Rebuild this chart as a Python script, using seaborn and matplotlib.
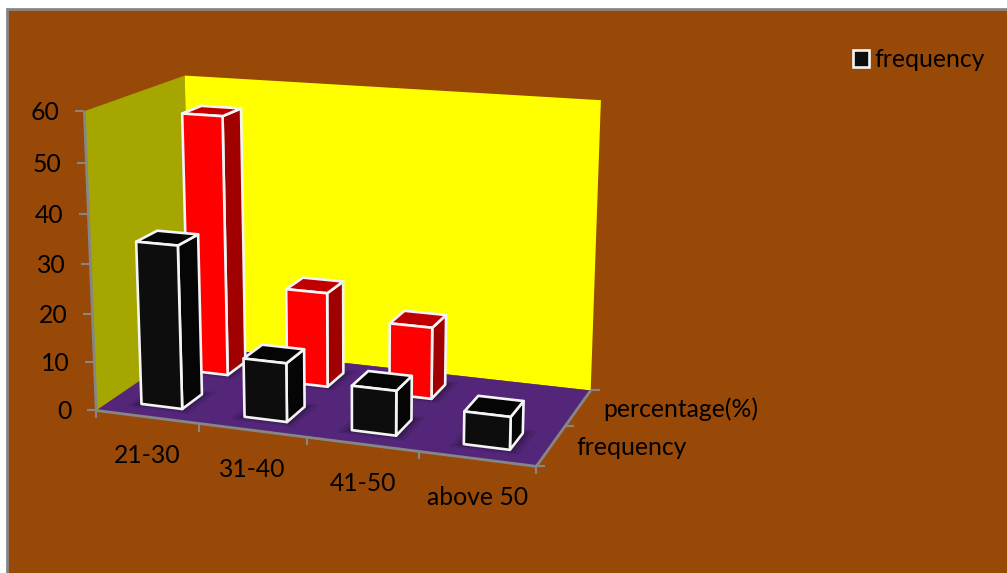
#!/usr/bin/env python3
import numpy as np
import matplotlib
matplotlib.use("Agg")
import matplotlib.pyplot as plt
import seaborn as sns
from matplotlib.patches import Polygon, Patch, Rectangle

# ===== DATA =====
AGE_GROUPS = ["21-30", "31-40", "41-50", "above 50"]
SERIES = ["frequency", "percentage(%)"]
FREQUENCY = [33.5, 12, 9, 6.5]
PERCENTAGE = [55, 20, 15, 0]
Z_TICKS = [0, 10, 20, 30, 40, 50, 60]

# ===== SETTINGS =====
BG = "#984807"
GREY = "#868686"
LEFT_WALL = "#A6A600"
BACK_WALL = "#FFFF00"
FLOOR = "#54267A"
# front, top, side colour of the bars in each series
BAR_COLORS = [("#0D0D0D", "#050505", "#050505"), ("#FF0000", "#C00000", "#A00000")]
BAR_WIDTH = 0.40
BAR_DEPTH = 0.42
FONT = 17.8

# camera: box corners (category, series, value) -> picture pixel
CAM_BOX = [(0, 0, 0), (4, 0, 0), (4, 2, 0), (0, 2, 0), (0, 0, 60), (0, 2, 60), (4, 2, 60)]
CAM_PX = [(95, 410), (537, 466), (590, 391), (192.7, 346), (85, 112), (184, 75), (601, 100)]


def fit_camera():
    rows, rhs = [], []
    for (x, y, z), (u, v) in zip(CAM_BOX, CAM_PX):
        rows.append([x, y, z, 1, 0, 0, 0, 0, -u * x, -u * y, -u * z])
        rows.append([0, 0, 0, 0, x, y, z, 1, -v * x, -v * y, -v * z])
        rhs += [u, v]
    sol = np.linalg.lstsq(np.array(rows, float), np.array(rhs, float), rcond=None)[0]
    return np.append(sol, 1).reshape(3, 4)


CAM = fit_camera()


def proj(x, y, z):
    p = CAM @ np.array([x, y, z, 1.0])
    return p[0] / p[2], p[1] / p[2]


def face(ax, pts, color, **kw):
    ax.add_patch(Polygon([proj(*p) for p in pts], closed=True, facecolor=color, **kw))


def draw_box(ax):
    face(ax, [(0, 0, 0), (0, 2, 0), (0, 2, 60), (0, 0, 60)], LEFT_WALL, edgecolor="none")
    face(ax, [(0, 2, 0), (4, 2, 0), (4, 2, 60), (0, 2, 60)], BACK_WALL, edgecolor="none")
    face(ax, [(0, 0, 0), (4, 0, 0), (4, 2, 0), (0, 2, 0)], FLOOR, edgecolor="none")


def axis_line(ax, a, b, lw=2):
    (x0, y0), (x1, y1) = a, b
    ax.plot([x0, x1], [y0, y1], color=GREY, lw=lw, solid_capstyle="butt")


def draw_axes(ax):
    # value axis
    axis_line(ax, proj(0, 0, 0), proj(0, 0, 60))
    for val in Z_TICKS:
        u, v = proj(0, 0, val)
        axis_line(ax, (u - 9, v), (u, v), lw=1.5)
        ax.text(u - 25, v + 1.5, str(val), ha="right", va="center", fontsize=FONT, color="black")
    # category axis
    axis_line(ax, proj(0, 0, 0), proj(4, 0, 0))
    for i in range(5):
        u, v = proj(i, 0, 0)
        axis_line(ax, (u, v), (u, v + 8), lw=1.5)
    for i, name in enumerate(AGE_GROUPS):
        u, v = proj(i + 0.5, 0, 0)
        ax.text(u, v + 39, name, ha="center", va="center", fontsize=FONT, color="black")
    # series axis
    axis_line(ax, proj(4, 0, 0), proj(4, 2, 0))
    for j in range(3):
        u, v = proj(4, j, 0)
        axis_line(ax, (u, v), (u + 9, v), lw=1.5)
    for j, name in enumerate(SERIES):
        u, v = proj(4, j + 0.5, 0)
        ax.text(u + 25, v + 1.5, name, ha="left", va="center", fontsize=FONT, color="black")


def draw_bar(ax, x0, x1, y0, y1, h, colors):
    front, top, side = colors
    # soft shadow on the floor
    for grow, alpha in [(0.10, 0.10), (0.06, 0.14), (0.03, 0.18)]:
        face(ax, [(x0 - grow, y0 - grow, 0), (x1 + grow, y0 - grow, 0),
                  (x1 + grow, y1 + grow, 0), (x0 - grow, y1 + grow, 0)],
             "black", edgecolor="none", alpha=alpha)
    kw = dict(edgecolor="#F4F4F4", linewidth=1.9, joinstyle="round")
    face(ax, [(x1, y0, 0), (x1, y1, 0), (x1, y1, h), (x1, y0, h)], side, **kw)
    face(ax, [(x0, y0, h), (x1, y0, h), (x1, y1, h), (x0, y1, h)], top, **kw)
    face(ax, [(x0, y0, 0), (x1, y0, 0), (x1, y0, h), (x0, y0, h)], front, **kw)


# ===== MAIN =====
sns.set_theme(style="white")
plt.rcParams["font.family"] = ["Lato", "DejaVu Sans"]

fig = plt.figure(figsize=(10.07, 5.73), dpi=100, facecolor="white")
ax = fig.add_axes([0, 0, 1, 1])
ax.set_xlim(0, 1007)
ax.set_ylim(573, 0)
ax.axis("off")

ax.add_patch(Rectangle((7, 8.5), 1100, 700, facecolor=BG, edgecolor=GREY, linewidth=2))
draw_box(ax)
draw_axes(ax)

# seaborn lays out the bars on a hidden categorical axes, they are then projected
helper = fig.add_axes([0, 0, 1, 1], visible=False)
sns.barplot(x=AGE_GROUPS, y=PERCENTAGE, width=BAR_WIDTH, ax=helper)
for rect in list(helper.containers[-1]):
    if rect.get_height() > 0:
        x0 = rect.get_x() + 0.5
        draw_bar(ax, x0, x0 + rect.get_width(), 1.5 - BAR_DEPTH / 2, 1.5 + BAR_DEPTH / 2,
                 rect.get_height(), BAR_COLORS[1])
sns.barplot(x=AGE_GROUPS, y=FREQUENCY, width=BAR_WIDTH, ax=helper)
for rect in list(helper.containers[-1]):
    if rect.get_height() > 0:
        x0 = rect.get_x() + 0.5
        draw_bar(ax, x0, x0 + rect.get_width(), 0.5 - BAR_DEPTH / 2, 0.5 + BAR_DEPTH / 2,
                 rect.get_height(), BAR_COLORS[0])

handle = Patch(facecolor=BAR_COLORS[0][0], edgecolor="#F4F4F4", linewidth=1.9, label=SERIES[0])
ax.legend(handles=[handle], loc="center left", bbox_to_anchor=(853, 59.5),
          bbox_transform=ax.transData, frameon=False, fontsize=FONT, labelcolor="black",
          borderpad=0, borderaxespad=0, handlelength=0.65, handleheight=0.65, handletextpad=0.22)

plt.savefig("out.png", dpi=100, facecolor="white")
plt.close()
